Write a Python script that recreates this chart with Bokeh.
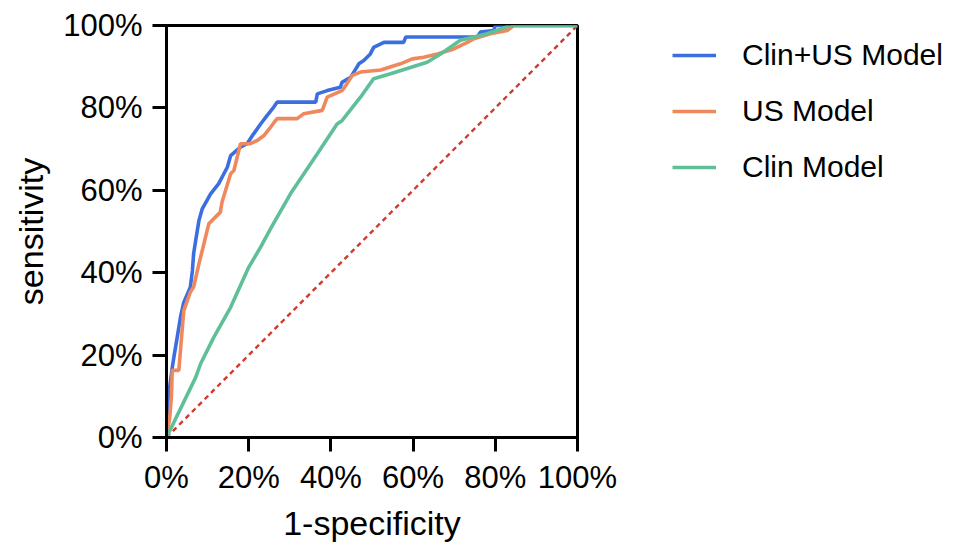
from bokeh.plotting import figure
from bokeh.models import Range1d, FixedTicker, PrintfTickFormatter, Legend, LegendItem
from bokeh.embed import file_html
from bokeh.resources import INLINE

# ---- data (percent) ----
clin_us_fpr = [0, 0, 0.2, 0.2, 1.4, 1.8, 2.6, 3.4, 4.2, 5.8, 6.3, 6.6, 7.1, 7.9, 8.7, 10.7,
               12.7, 14.8, 15.6, 18.0, 19.6, 21.2, 22.9, 24.5, 26.1, 26.9, 36.3, 36.7, 39.1,
               42.3, 42.7, 44.8, 46.8, 48.0, 49.6, 50.4, 52.9, 57.7, 58.2, 75.6, 76.4, 79.6,
               80.0, 100]
clin_us_tpr = [0, 4.0, 4.0, 7.8, 17.0, 19.5, 24.3, 29.2, 32.8, 36.5, 40.5, 44.6, 47.8, 52.7,
               55.5, 59.1, 61.6, 65.6, 68.4, 70.5, 71.3, 73.7, 76.1, 78.2, 80.2, 81.4, 81.4,
               83.4, 84.2, 85.0, 86.2, 87.4, 90.7, 91.5, 93.1, 94.7, 95.9, 95.9, 97.2, 97.2,
               98.4, 98.8, 100, 100]

us_fpr = [0, 0.8, 1.2, 1.4, 3.0, 3.8, 4.2, 5.8, 6.6, 7.9, 9.1, 10.3, 13.1, 13.5, 15.6, 16.4,
          18.0, 20.4, 22.1, 23.7, 25.3, 26.9, 31.8, 33.4, 37.9, 39.1, 42.7, 43.6, 45.2, 47.2,
          52.1, 56.9, 59.8, 62.6, 65.9, 69.9, 73.2, 74.8, 78.8, 82.9, 84.5, 100]
us_tpr = [0, 5.0, 10.0, 16.3, 16.3, 26.0, 30.8, 35.3, 36.5, 42.2, 47.0, 51.9, 54.7, 57.1, 64.0,
          64.8, 71.3, 71.3, 72.1, 73.3, 75.3, 77.4, 77.4, 78.6, 79.4, 82.6, 84.2, 85.4, 87.9,
          88.7, 89.2, 90.7, 91.9, 92.3, 93.1, 94.3, 95.9, 96.8, 98.0, 98.8, 100, 100]

clin_fpr = [0, 7.1, 8.3, 11.5, 15.6, 20.0, 22.9, 25.5, 30.2, 36.7, 41.5, 42.7, 47.2, 50.4,
            54.5, 63.4, 66.7, 71.5, 78.0, 83.7, 100]
clin_tpr = [0, 14.6, 17.9, 24.3, 31.6, 41.3, 46.2, 51.0, 59.2, 68.9, 76.1, 76.9, 82.6, 87.1,
            88.3, 91.1, 93.1, 96.4, 98.0, 100, 100]

ref_x = [0, 100]
ref_y = [0, 100]

ticks = [0, 20, 40, 60, 80, 100]
series_names = ["Clin+US Model", "US Model", "Clin Model"]
colors = ["#3b6fe0", "#f0885e", "#5fbf98"]

FONT = "Liberation Sans"

p = figure(frame_width=411, frame_height=412,
           min_border_left=166, min_border_right=386, min_border_top=25, min_border_bottom=111,
           x_range=Range1d(0, 100), y_range=Range1d(0, 100),
           output_backend="svg", toolbar_location=None, tools="")

p.xgrid.visible = False
p.ygrid.visible = False
p.outline_line_color = "black"
p.outline_line_width = 3
p.background_fill_color = "white"
p.border_fill_color = "white"

for ax in (p.xaxis[0], p.yaxis[0]):
    ax.ticker = FixedTicker(ticks=ticks)
    ax.formatter = PrintfTickFormatter(format="%d%%")
    ax.minor_tick_line_color = None
    ax.axis_line_width = 3
    ax.axis_line_color = "black"
    ax.major_tick_line_width = 3
    ax.major_tick_line_color = "black"
    ax.major_tick_out = 14
    ax.major_tick_in = 0
    ax.major_label_text_font = FONT
    ax.major_label_text_font_size = "31px"
    ax.major_label_text_color = "black"
    ax.axis_label_text_font = FONT
    ax.axis_label_text_font_size = "34px"
    ax.axis_label_text_font_style = "normal"
    ax.axis_label_text_color = "black"

p.xaxis[0].major_label_standoff = 8
p.yaxis[0].major_label_standoff = 10
p.xaxis[0].axis_label_standoff = 6
p.yaxis[0].axis_label_standoff = 10
p.xaxis[0].axis_label = "1-specificity"
p.yaxis[0].axis_label = "sensitivity"

p.line(ref_x, ref_y, line_color="#d03a30", line_width=2.4, line_dash="5 4")

r1 = p.line(clin_us_fpr, clin_us_tpr, line_color=colors[0], line_width=3.6)
r2 = p.line(us_fpr, us_tpr, line_color=colors[1], line_width=3.6)
r3 = p.line(clin_fpr, clin_tpr, line_color=colors[2], line_width=3.6)

legend = Legend(items=[LegendItem(label=series_names[0], renderers=[r1]),
                       LegendItem(label=series_names[1], renderers=[r2]),
                       LegendItem(label=series_names[2], renderers=[r3])],
                location=(95, 253))
legend.label_text_font = FONT
legend.label_text_font_size = "30px"
legend.label_text_color = "black"
legend.glyph_width = 44
legend.glyph_height = 30
legend.label_height = 30
legend.label_standoff = 26
legend.spacing = 22
legend.padding = 0
legend.margin = 0
legend.border_line_color = None
legend.background_fill_alpha = 0
p.add_layout(legend, "right")

open("out.html", "w").write(file_html(p, INLINE))
